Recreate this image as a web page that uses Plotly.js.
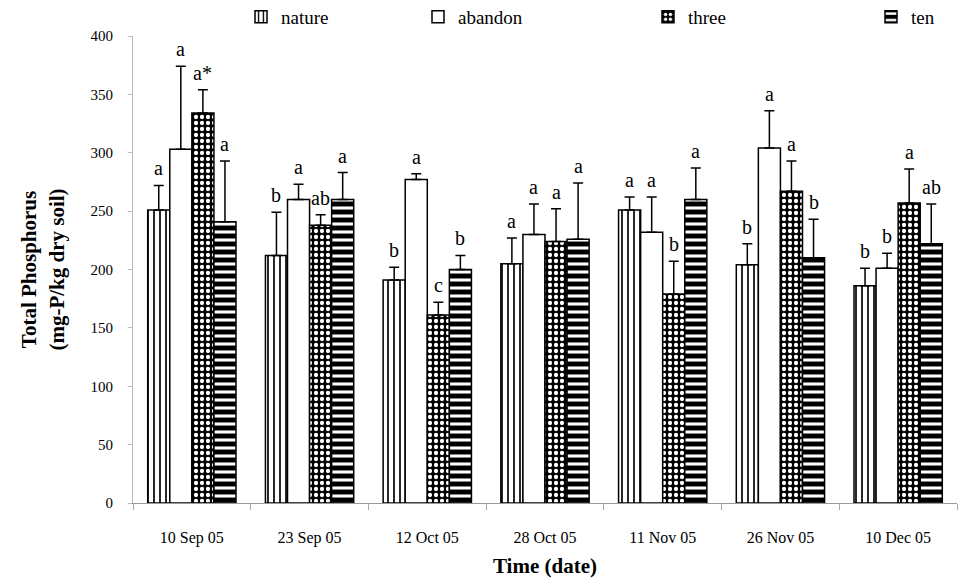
<!DOCTYPE html>
<html>
<head>
<meta charset="utf-8">
<script src="https://cdn.plot.ly/plotly-3.0.1.min.js"></script>
<style>html,body{margin:0;padding:0;background:#fff;}#chart{width:959px;height:588px;}</style>
</head>
<body>
<div id="chart"></div>
<script>
const categories = ["10 Sep 05", "23 Sep 05", "12 Oct 05", "28 Oct 05", "11 Nov 05", "26 Nov 05", "10 Dec 05"];
const seriesNames = ["nature", "abandon", "three", "ten"];

const nature = [251, 212, 191, 205, 251, 204, 186];
const natureErr = [21, 37, 11, 22, 11, 18, 15];
const natureLetters = ["a", "b", "b", "a", "a", "b", "b"];

const abandon = [303, 260, 277, 230, 232, 304, 201];
const abandonErr = [71, 13, 5, 26, 30, 32, 13];
const abandonLetters = ["a", "a", "a", "a", "a", "a", "b"];

const three = [334, 238, 161, 224, 179, 267, 257];
const threeErr = [20, 9, 11, 28, 28, 26, 29];
const threeLetters = ["a*", "ab", "c", "a", "b", "a", "a"];

const ten = [241, 260, 200, 226, 260, 210, 222];
const tenErr = [52, 23, 12, 48, 27, 33, 34];
const tenLetters = ["a", "a", "b", "a", "a", "b", "ab"];

const yTicks = [0, 50, 100, 150, 200, 250, 300, 350, 400];

const serif = "Liberation Serif";

const values = [nature, abandon, three, ten];
const errs = [natureErr, abandonErr, threeErr, tenErr];
const letters = [natureLetters, abandonLetters, threeLetters, tenLetters];

const patterns = [
  {shape: "|", fgcolor: "#000", bgcolor: "#fff", size: 6, solidity: 0.28},
  {shape: "", fgcolor: "#000", bgcolor: "#fff"},
  {shape: ".", fgcolor: "#fff", bgcolor: "#000", size: 6, solidity: 0.4},
  {shape: "-", fgcolor: "#fff", bgcolor: "#000", size: 8, solidity: 0.38}
];
const legendIds = ["legend", "legend2", "legend3", "legend4"];
const legendTextX = [283, 460, 690, 913];

const traces = seriesNames.map((name, k) => ({
  type: "bar",
  name: '<span style="font-family:\'Liberation Serif\',serif">' + name + '</span>',
  x: categories,
  y: values[k],
  legend: legendIds[k],
  marker: {
    color: "#fff",
    line: {color: "#000", width: 1.5},
    pattern: patterns[k]
  },
  error_y: {
    type: "data",
    symmetric: false,
    array: errs[k],
    arrayminus: errs[k].map(() => 0),
    color: "#000",
    thickness: 1.5,
    width: 5
  },
  hoverinfo: "skip"
}));

const bargap = 0.25;
const barW = (1 - bargap) / 4;
const annotations = [];
seriesNames.forEach((name, k) => {
  const off = -((1 - bargap) / 2) + barW * (k + 0.5);
  categories.forEach((c, i) => {
    annotations.push({
      x: i + off, y: values[k][i] + errs[k][i],
      xref: "x", yref: "y",
      text: letters[k][i],
      showarrow: false,
      yanchor: "bottom", xanchor: "center",
      yshift: 4,
      font: {family: serif, size: 20, color: "#000"}
    });
  });
});

const layout = {
  width: 959, height: 588,
  margin: {l: 133, r: 2, t: 35, b: 85},
  paper_bgcolor: "#fff", plot_bgcolor: "#fff",
  font: {family: serif, color: "#000"},
  barmode: "group",
  bargap: bargap,
  bargroupgap: 0,
  showlegend: true,
  xaxis: {
    type: "category",
    range: [-0.5, categories.length - 0.5],
    showgrid: false, zeroline: false,
    showline: true, linecolor: "#999", linewidth: 1,
    ticks: "outside", tickson: "boundaries", ticklen: 6, tickcolor: "#aaa",
    ticklabelstandoff: 20,
    tickfont: {family: serif, size: 16, color: "#000"},
    title: {text: "<b>Time (date)</b>", font: {family: serif, size: 21, color: "#000"}, standoff: 12}
  },
  yaxis: {
    range: [0, 400],
    tickvals: yTicks,
    ticktext: yTicks.map(String),
    showgrid: false, zeroline: false,
    showline: true, linecolor: "#bbb", linewidth: 1,
    ticks: "outside", ticklen: 4, tickcolor: "#bbb",
    ticklabelstandoff: 12,
    tickfont: {family: serif, size: 15, color: "#000"},
    title: {text: "<b>Total Phosphorus<br>(mg-P/kg dry soil)</b>", font: {family: serif, size: 21, color: "#000"}, standoff: 20}
  },
  annotations: annotations
};
legendIds.forEach((id, k) => {
  layout[id] = {
    xref: "container", yref: "container",
    x: (legendTextX[k] - 42) / 959, xanchor: "left",
    y: 1 - 17 / 588, yanchor: "middle",
    orientation: "h",
    bgcolor: "rgba(0,0,0,0)",
    font: {family: serif, size: 19, color: "#000"}
  };
});

Plotly.newPlot("chart", traces, layout, {displayModeBar: false, staticPlot: true});
</script>
</body>
</html>
